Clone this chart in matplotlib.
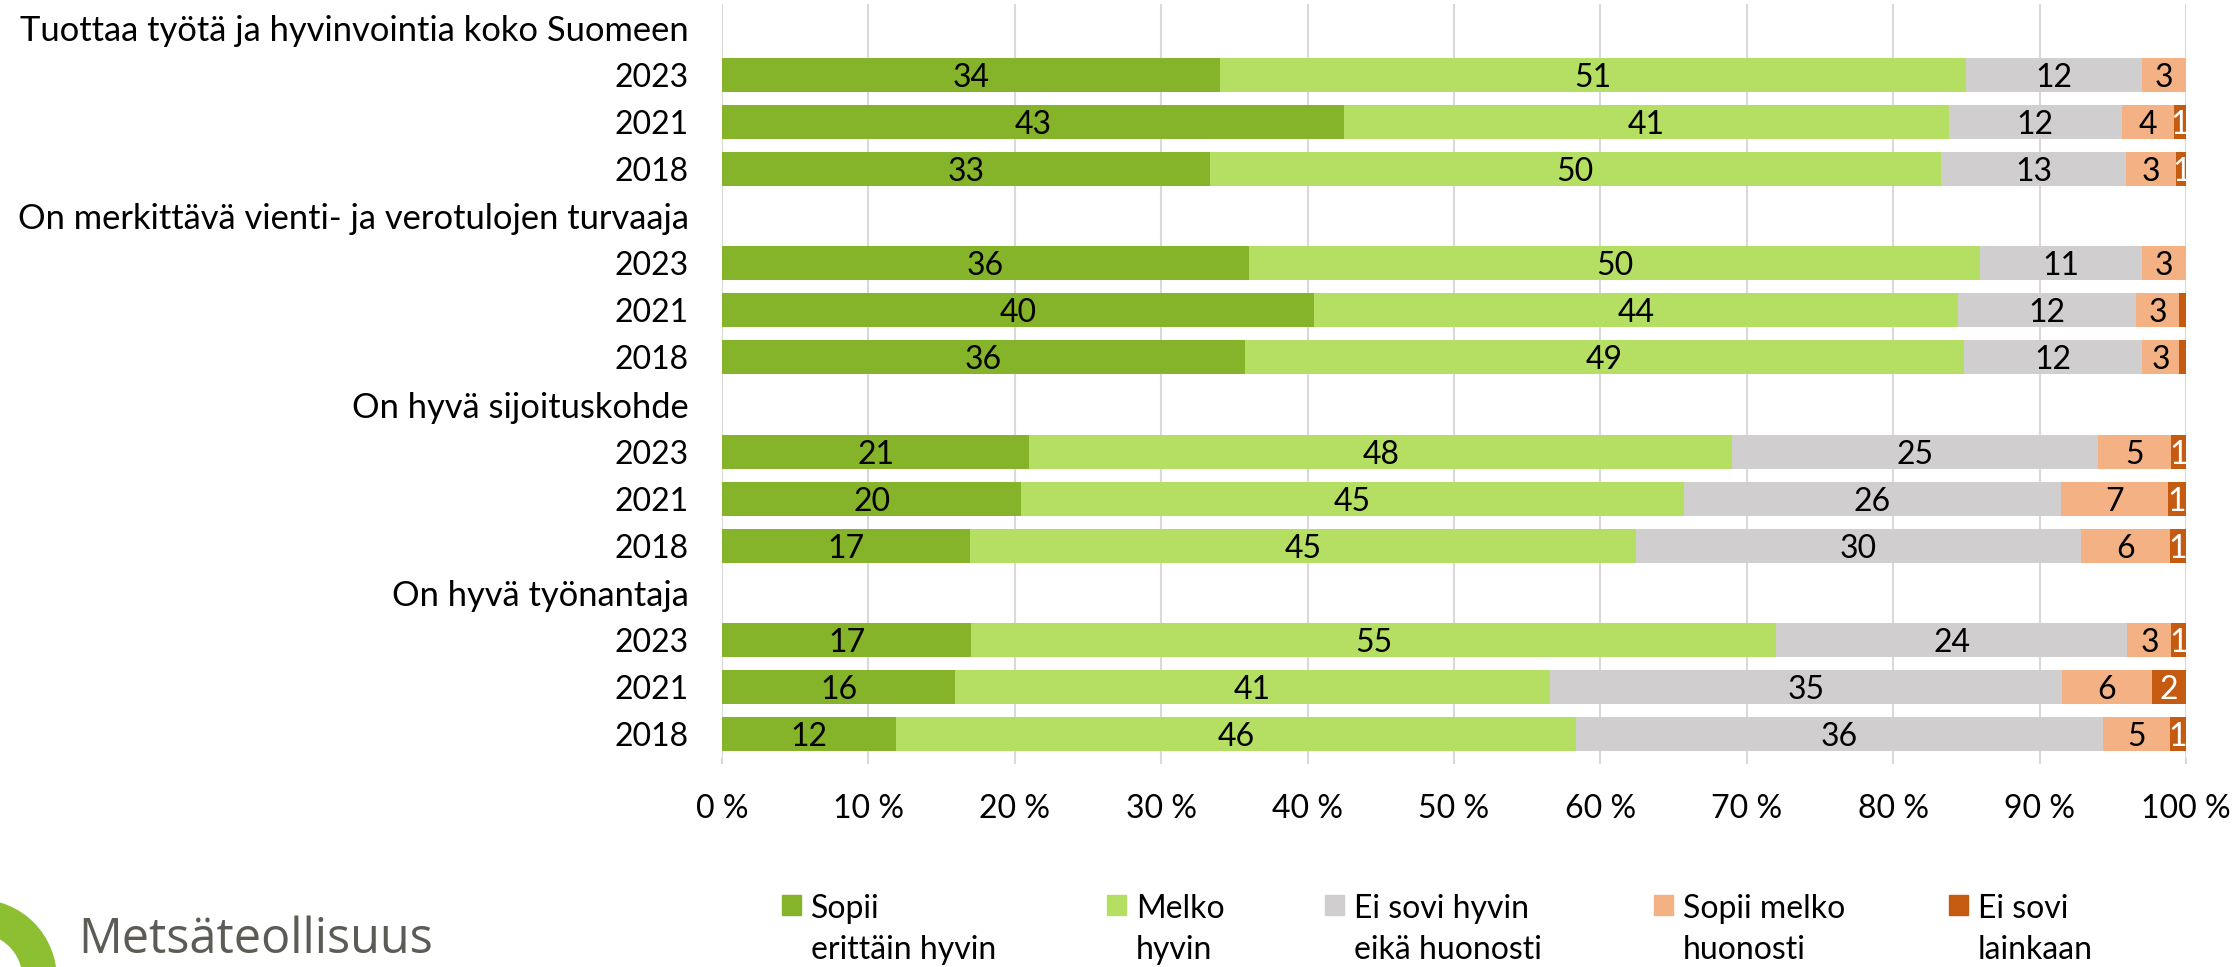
import matplotlib
matplotlib.use("Agg")
import matplotlib.pyplot as plt
from matplotlib.patches import Rectangle, Wedge
from matplotlib.transforms import IdentityTransform

# --- data -----------------------------------------------------------------
groups = [
    "Tuottaa työtä ja hyvinvointia koko Suomeen",
    "On merkittävä vienti- ja verotulojen turvaaja",
    "On hyvä sijoituskohde",
    "On hyvä työnantaja",
]
years = ["2023", "2021", "2018"]

series_names = [
    "Sopii\nerittäin hyvin",
    "Melko\nhyvin",
    "Ei sovi hyvin\neikä huonosti",
    "Sopii melko\nhuonosti",
    "Ei sovi\nlainkaan",
]
series_colors = ["#85b42a", "#b4df62", "#d0cece", "#f4b183", "#c55a11"]
label_colors = ["black", "black", "black", "black", "white"]

# shares in %, order: group 1 (2023, 2021, 2018), group 2 ..., group 4
sopii_erittain_hyvin = [34.0, 42.5, 33.3, 36.0, 40.45, 35.7, 21.0, 20.45, 16.94, 17.0, 15.92, 11.9]
melko_hyvin = [51.0, 41.3, 49.95, 49.95, 44.0, 49.11, 48.0, 45.25, 45.46, 55.0, 40.64, 46.4]
ei_sovi_hyvin_eika_huonosti = [12.0, 11.8, 12.65, 11.05, 12.13, 12.19, 25.0, 25.76, 30.4, 24.0, 34.94, 36.05]
sopii_melko_huonosti = [3.0, 3.55, 3.45, 3.0, 2.96, 2.55, 5.0, 7.29, 6.1, 3.0, 6.2, 4.55]
ei_sovi_lainkaan = [0.0, 0.85, 0.65, 0.0, 0.46, 0.45, 1.0, 1.25, 1.1, 1.0, 2.3, 1.1]

x_ticks = [0, 10, 20, 30, 40, 50, 60, 70, 80, 90, 100]

W, H = 2239, 967
FONT = "Lato"


def fx(px):
    return px / W


def fy(py):
    return 1 - py / H


def plot_chart(output_path):
    plt.rcParams["font.family"] = [FONT, "DejaVu Sans"]
    fig = plt.figure(figsize=(W / 100, H / 100), dpi=100)
    ax = fig.add_axes([fx(722), fy(758), fx(2186) - fx(722), fy(4) - fy(758)])

    all_series = [
        sopii_erittain_hyvin,
        melko_hyvin,
        ei_sovi_hyvin_eika_huonosti,
        sopii_melko_huonosti,
        ei_sovi_lainkaan,
    ]

    # row layout: header row followed by one row per year
    row_labels = []
    bar_rows = []
    header_rows = []
    for g, name in enumerate(groups):
        header_rows.append(len(row_labels))
        row_labels.append(name)
        for y, yr in enumerate(years):
            bar_rows.append(len(row_labels))
            row_labels.append(yr)

    lefts = [0.0] * len(bar_rows)
    for vals, color, lcol in zip(all_series, series_colors, label_colors):
        ax.barh(bar_rows, vals, left=lefts, height=0.72, color=color, zorder=2)
        for r, l, v in zip(bar_rows, lefts, vals):
            lbl = int(v + 0.5)
            if lbl > 0:
                ax.text(l + v / 2, r, str(lbl), ha="center", va="center_baseline",
                        fontsize=23, color=lcol, zorder=3)
        lefts = [l + v for l, v in zip(lefts, vals)]

    ax.set_xlim(0, 100)
    ax.set_ylim(len(row_labels) - 0.5, -0.5)
    ax.set_yticks(range(len(row_labels)))
    ax.set_yticklabels(row_labels, fontsize=23)
    for i, t in enumerate(ax.get_yticklabels()):
        if i in header_rows:
            t.set_fontsize(24.8)
    ax.set_xticks(x_ticks)
    ax.set_xticklabels([f"{t} %" for t in x_ticks], fontsize=23)
    ax.tick_params(axis="y", length=0, pad=24)
    ax.tick_params(axis="x", length=4, width=1.5, color="#d9d9d9", pad=22)
    for s in ax.spines.values():
        s.set_visible(False)
    ax.grid(axis="x", color="#d9d9d9", linewidth=1.5, zorder=0)
    ax.set_axisbelow(True)

    # legend below the plot
    legend_x = [782, 1107, 1325, 1654, 1949]
    for x0, name, color in zip(legend_x, series_names, series_colors):
        fig.patches.append(Rectangle((fx(x0), fy(915)), fx(19), fy(895) - fy(915),
                                     transform=fig.transFigure, color=color))
        line1, line2 = name.split("\n")
        fig.text(fx(x0 + 29), fy(906), line1, fontsize=23, va="center_baseline", ha="left")
        fig.text(fx(x0 + 29), fy(947), line2, fontsize=23, va="center_baseline", ha="left")

    # logo at bottom left (ring drawn in pixel coordinates so it stays round)
    ring = Wedge((-22, -11), 78, -90, 90, width=33,
                 transform=IdentityTransform(), color="#8cbf32")
    fig.patches.append(ring)
    fig.text(fx(78), fy(965), "Metsäteollisuus", fontsize=35, color="#5c5b55",
             family=["Open Sans", "DejaVu Sans"], va="bottom", ha="left")

    fig.savefig(output_path, dpi=100)
    plt.close(fig)


if __name__ == "__main__":
    plot_chart("out.png")
